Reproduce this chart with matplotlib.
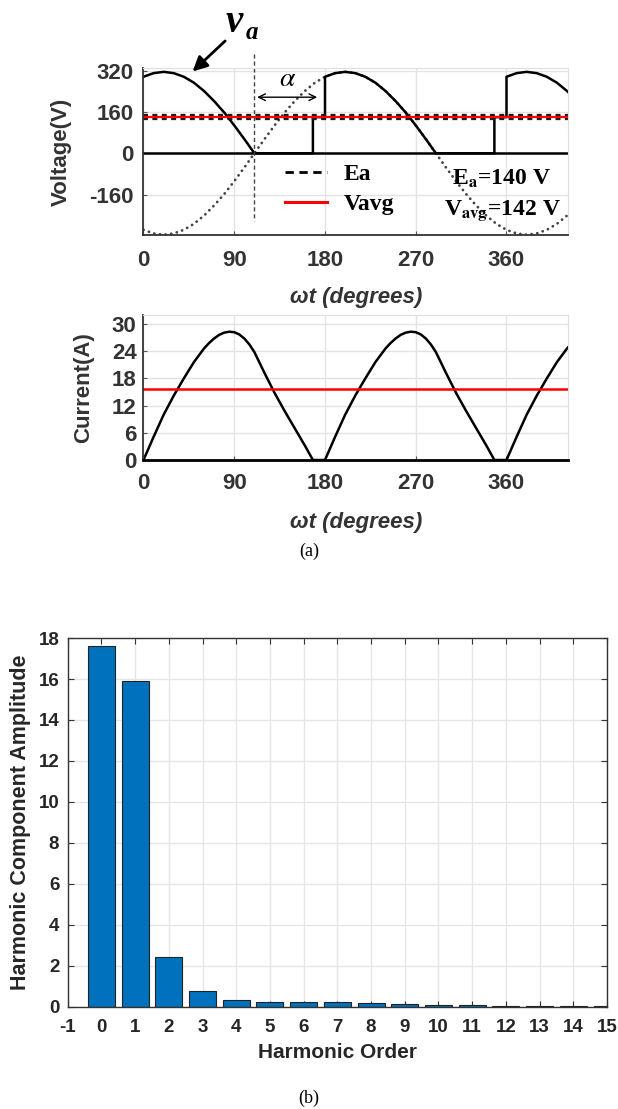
import numpy as np
import matplotlib
matplotlib.use('Agg')
import matplotlib.pyplot as plt
from matplotlib.lines import Line2D

plt.rcParams['font.family'] = 'Liberation Sans'
plt.rcParams['mathtext.fontset'] = 'stix'
plt.rcParams['axes.unicode_minus'] = False

#######################################################################
# data
#######################################################################
# (a) top: converter output voltage, deg / V
va_deg = [0, 10, 20, 30, 40, 50, 60, 70, 80, 90, 100, 110,
          168, 168, 180, 180,
          190, 200, 210, 220, 230, 240, 250, 260, 270, 280, 290,
          348, 348, 360, 360,
          370, 380, 390, 400, 410, 420, 430]
va_out = [296, 310, 315, 310, 296, 273, 241, 202, 158, 108, 55, 0,
          0, 140, 140, 296,
          310, 315, 310, 296, 273, 241, 202, 158, 108, 55, 0,
          0, 140, 140, 296,
          310, 315, 310, 296, 273, 241, 202]
# dotted supply trace
vs_deg = [0, 10, 20, 30, 40, 50, 60, 70, 80, 90, 100, 110,
          120, 130, 140, 150, 160, 170, 180, 190, 200, 210, 220, 230, 240,
          250, 260, 270, 280, 290, 300, 310, 320, 330, 340, 350, 360, 370,
          380, 390, 400, 410, 420, 430]
vs_val = [-296, -310, -315, -310, -296, -273, -241, -202, -158, -108, -55, 0,
          55, 108, 158, 202, 241, 273, 296, 310, 315, 310, 296, 273, 241,
          202, 158, 108, 55, 0, -55, -108, -158, -202, -241, -273, -296, -310,
          -315, -310, -296, -273, -241, -202]
Ea = 140
Vavg = 142
alpha_start = 110
alpha_end = 175

# (a) bottom: armature current, deg / A
ia_deg = [0, 10, 20, 30, 40, 50, 60, 65, 70, 75, 80, 85, 90, 95, 100, 105, 110, 120, 130, 140, 150, 160, 168,
          180, 190, 200, 210, 220, 230, 240, 245, 250, 255, 260, 265, 270, 275, 280, 285, 290, 300, 310, 320,
          330, 340, 348,
          360, 370, 380, 390, 400, 410, 420, 425, 430]
ia_val = [0, 5.1, 10, 14.2, 18, 21.6, 24.6, 25.8, 26.8, 27.6, 28.1, 28.3, 28.2, 27.7, 26.8, 25.5, 23.8, 19.2,
          14.8, 10.8, 7.0, 3.2, 0,
          0, 5.1, 10, 14.2, 18, 21.6, 24.6, 25.8, 26.8, 27.6, 28.1, 28.3, 28.2, 27.7, 26.8, 25.5, 23.8, 19.2,
          14.8, 10.8, 7.0, 3.2, 0,
          0, 5.1, 10, 14.2, 18, 21.6, 24.6, 25.8, 26.8]
Iavg = 15.6

# (b) harmonic spectrum
harm_order = [0, 1, 2, 3, 4, 5, 6, 7, 8, 9, 10, 11, 12, 13, 14, 15]
harm_amp = [17.6, 15.9, 2.45, 0.80, 0.34, 0.26, 0.25, 0.23, 0.19, 0.15, 0.11, 0.08, 0.04, 0.03, 0.03, 0.03]

deg_ticks = [0, 90, 180, 270, 360]

#######################################################################
fig = plt.figure(figsize=(6.18, 11.09), dpi=100)

def wave_axes(ax):
    ax.grid(True, color='#e3e3e3', lw=1.0)
    ax.set_axisbelow(True)
    for s in ['top', 'right']:
        ax.spines[s].set_color('#dddddd')
    for s in ['left', 'bottom']:
        ax.spines[s].set_color('#333333')
        ax.spines[s].set_linewidth(1.3)
    ax.set_xlim(0, 421)
    ax.set_xticks(deg_ticks)
    ax.tick_params(direction='in', length=3, color='#555555', labelsize=16,
                   labelcolor='#333333')
    for lab in ax.get_xticklabels() + ax.get_yticklabels():
        lab.set_fontweight('bold')

# ---------------- voltage ----------------
ax1 = fig.add_axes([0.2322, 0.7881, 0.6869, 0.1506])
ax1.plot(vs_deg, vs_val, color='#444444', lw=2.0, dashes=(0.05, 2.0),
         dash_capstyle='round')
ax1.axhline(0, color='k', lw=1.8)
ax1.plot(va_deg, va_out, color='k', lw=1.8)
ax1.axhline(Ea, color='#1a1a1a', lw=4.5, dashes=(0.8, 0.7))
ax1.axhline(Vavg, color='red', lw=1.6)
ax1.set_ylim(-316, 330)
ax1.set_yticks([-160, 0, 160, 320])
wave_axes(ax1)
ax1.tick_params(axis='x', pad=11)
ax1.tick_params(axis='y', pad=7)
ax1.set_ylabel('Voltage(V)', fontsize=16, fontweight='bold', color='#333333', va='center')
ax1.yaxis.set_label_coords(-0.194, 0.5)
ax1.set_xlabel('ωt (degrees)', fontsize=16, fontweight='bold',
               fontstyle='italic', color='#333333', va='center')
ax1.xaxis.set_label_coords(0.5, -0.377)

# firing angle marker
ax1.plot([alpha_start, alpha_start], [384, -260], color='#444444', lw=1.0,
         dashes=(3, 2), clip_on=False)
ax1.annotate('', xy=(alpha_start, 217), xytext=(alpha_end, 217),
             arrowprops=dict(arrowstyle='<->', lw=1.0, color='k', mutation_scale=12))
ax1.text((alpha_start + alpha_end) / 2, 286, r'$\alpha$', fontsize=20,
         ha='center', va='center')
# v_a label
ax1.annotate('', xy=(46.7, 309), xytext=(83, 442),
             arrowprops=dict(arrowstyle='-|>', lw=2.0, color='k', mutation_scale=22),
             annotation_clip=False)
ax1.text(90, 505, 'v', fontsize=28, fontstyle='italic', fontweight='bold',
         family='Liberation Serif', ha='center', va='center', clip_on=False)
ax1.text(101, 468, 'a', fontsize=18, fontstyle='italic', fontweight='bold',
         family='Liberation Serif', ha='left', va='center', clip_on=False)

handles = [Line2D([], [], color='k', lw=2, dashes=(3, 2)),
           Line2D([], [], color='red', lw=2.2)]
leg = ax1.legend(handles, ['Ea', 'Vavg'], loc='center left',
                 bbox_to_anchor=(0.333, 0.272), frameon=False, borderpad=0,
                 borderaxespad=0, handlelength=1.8, handletextpad=0.7,
                 labelspacing=0.35,
                 prop=dict(family='Liberation Serif', weight='bold', size=17))
ax1.text(355, -97, r'E$_\mathbf{a}$=140 V', fontsize=17, fontweight='bold',
         family='Liberation Serif', ha='center', va='center')
ax1.text(356, -222, r'V$_\mathbf{avg}$=142 V', fontsize=17, fontweight='bold',
         family='Liberation Serif', ha='center', va='center')

# ---------------- current ----------------
ax2 = fig.add_axes([0.2322, 0.5852, 0.6869, 0.1308])
ax2.plot(ia_deg, ia_val, color='k', lw=1.8)
ax2.axhline(Iavg, color='red', lw=1.8)
ax2.set_ylim(0, 32)
ax2.set_yticks([0, 6, 12, 18, 24, 30])
wave_axes(ax2)
ax2.spines['bottom'].set_color('k')
ax2.spines['bottom'].set_linewidth(2.0)
ax2.tick_params(axis='x', pad=9)
ax2.tick_params(axis='y', pad=5)
ax2.set_ylabel('Current(A)', fontsize=16, fontweight='bold', color='#333333', va='center')
ax2.yaxis.set_label_coords(-0.14, 0.5)
ax2.set_xlabel('ωt (degrees)', fontsize=16, fontweight='bold',
               fontstyle='italic', color='#333333', va='center')
ax2.xaxis.set_label_coords(0.5, -0.434)

fig.text(0.5, 1 - 551 / 1109, '(a)', family='Liberation Serif', fontsize=13,
         ha='center', va='center')

# ---------------- harmonics ----------------
ax3 = fig.add_axes([0.1095, 0.092, 0.8727, 0.3327])
ax3.bar(harm_order, harm_amp, width=0.8, color='#0072BD', edgecolor='#222222',
        lw=0.8, zorder=2)
ax3.set_xlim(-1, 15)
ax3.set_ylim(0, 18)
ax3.set_xticks(range(-1, 16))
ax3.set_yticks(range(0, 19, 2))
ax3.grid(True, color='#e6e6e6', lw=1.0)
ax3.set_axisbelow(True)
for s in ax3.spines.values():
    s.set_color('#333333')
    s.set_linewidth(1.0)
ax3.tick_params(direction='in', length=4, top=True, right=True, color='#333333',
                labelsize=13.5, labelcolor='#262626')
ax3.tick_params(axis='x', pad=9)
ax3.tick_params(axis='y', pad=6)
for lab in ax3.get_xticklabels() + ax3.get_yticklabels():
    lab.set_fontweight('bold')
ax3.set_xlabel('Harmonic Order', fontsize=15, fontweight='bold', color='#262626',
               va='center')
ax3.xaxis.set_label_coords(0.5, -0.1247)
ax3.set_ylabel('Harmonic Component Amplitude', fontsize=15.5, fontweight='bold',
               color='#262626', va='center')
ax3.yaxis.set_label_coords(-0.0866, 0.5)

fig.text(0.5, 1 - 1098 / 1109, '(b)', family='Liberation Serif', fontsize=13,
         ha='center', va='center')

fig.savefig('out.png', dpi=100)
